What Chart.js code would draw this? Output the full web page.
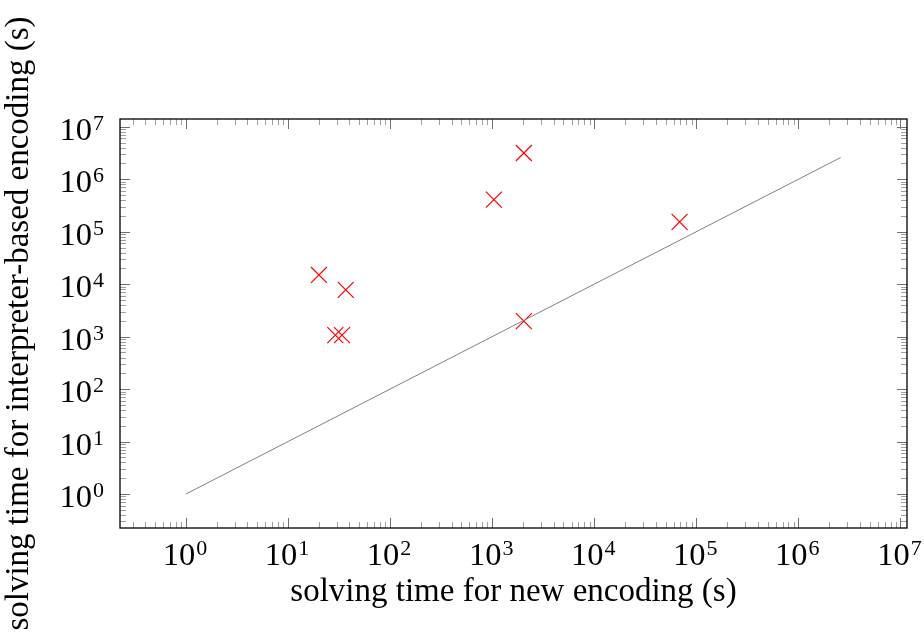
<!DOCTYPE html>
<html>
<head>
<meta charset="utf-8">
<script src="https://cdn.jsdelivr.net/npm/chart.js@4/dist/chart.umd.min.js"></script>
<style>
  body { margin: 0; background: #fff; }
  #wrap { width: 924px; height: 644px; }
</style>
</head>
<body>
<div id="wrap"><canvas id="plot" width="924" height="644"></canvas></div>
<script>
// solving times (s)
const newEncoding = [20.1, 36.8, 29.1, 33.8, 1040, 2046, 2046, 68600];
const interpEncoding = [15000, 7790, 1068, 1068, 410000, 3170000, 1974, 153800];
// y = x reference line
const diagX = [1, 2600000];
const diagY = [1, 2600000];
// decade tick values and their exponents
const decades = [1, 10, 100, 1000, 10000, 100000, 1000000, 10000000];
const exponents = ['0', '1', '2', '3', '4', '5', '6', '7'];
const minorSteps = [2, 3, 4, 5, 6, 7, 8, 9];

const FONT = "'Liberation Serif', 'DejaVu Serif', serif";

// ticks pointing inwards on all four sides, the frame, and 10^n labels
const frameTicks = {
  id: 'frameTicks',
  afterDraw(chart) {
    const { ctx, chartArea: a, scales: { x, y } } = chart;
    ctx.save();
    ctx.lineWidth = 1;
    const drawX = (v, len, col) => {
      const px = Math.round(x.getPixelForValue(v)) + 0.5;
      if (px < a.left || px > a.right) return;
      ctx.strokeStyle = col;
      ctx.beginPath();
      ctx.moveTo(px, a.bottom); ctx.lineTo(px, a.bottom - len);
      ctx.moveTo(px, a.top); ctx.lineTo(px, a.top + len);
      ctx.stroke();
    };
    const drawY = (v, len, col) => {
      const py = Math.round(y.getPixelForValue(v)) + 0.5;
      if (py < a.top || py > a.bottom) return;
      ctx.strokeStyle = col;
      ctx.beginPath();
      ctx.moveTo(a.left, py); ctx.lineTo(a.left + len, py);
      ctx.moveTo(a.right, py); ctx.lineTo(a.right - len, py);
      ctx.stroke();
    };
    [0.1].concat(decades).forEach(d => {
      minorSteps.forEach(m => { drawX(d * m, 6, '#a0a0a0'); drawY(d * m, 6, '#a0a0a0'); });
    });
    decades.forEach(d => { drawX(d, 10, '#707070'); drawY(d, 10, '#707070'); });
    ctx.strokeStyle = '#000';
    ctx.lineWidth = 1.3;
    ctx.strokeRect(a.left, a.top, a.right - a.left, a.bottom - a.top);

    // tick labels 10 with raised exponent
    const baseFont = '32.5px ' + FONT;
    const supFont = '22px ' + FONT;
    ctx.fillStyle = '#000';
    ctx.textBaseline = 'alphabetic';
    ctx.textAlign = 'left';
    decades.forEach((d, i) => {
      ctx.font = baseFont;
      const wb = ctx.measureText('10').width;
      ctx.font = supFont;
      const ws = ctx.measureText(exponents[i]).width;
      // x axis
      const px = x.getPixelForValue(d);
      const left = px - (wb + 1 + ws) / 2 - 1;
      ctx.font = baseFont;
      ctx.fillText('10', left, a.bottom + 37);
      ctx.font = supFont;
      ctx.fillText(exponents[i], left + wb + 1, a.bottom + 27);
      // y axis
      const py = y.getPixelForValue(d);
      const right = a.left - 16;
      ctx.font = supFont;
      ctx.fillText(exponents[i], right - ws, py + 3);
      ctx.font = baseFont;
      ctx.fillText('10', right - ws - 1 - wb, py + 13);
    });
    ctx.restore();
  }
};

new Chart(document.getElementById('plot').getContext('2d'), {
  type: 'scatter',
  data: {
    datasets: [{
      label: 'diagonal',
      data: diagX.map((v, i) => ({ x: v, y: diagY[i] })),
      showLine: true,
      borderColor: '#808080',
      borderWidth: 1,
      pointRadius: 0,
      fill: false
    }, {
      label: 'instances',
      data: newEncoding.map((v, i) => ({ x: v, y: interpEncoding[i] })),
      pointStyle: 'crossRot',
      pointRadius: 11.3,
      pointBorderWidth: 1.2,
      borderColor: '#ff0000',
      backgroundColor: '#ff0000'
    }]
  },
  options: {
    responsive: false,
    animation: false,
    layout: { padding: { left: 0, top: 119, right: 17, bottom: 0 } },
    plugins: { legend: { display: false }, tooltip: { enabled: false } },
    scales: {
      x: {
        type: 'logarithmic',
        min: 0.226, max: 11600000,
        grid: { display: false, drawTicks: false },
        border: { display: false },
        afterBuildTicks: s => { s.ticks = decades.map(v => ({ value: v })); },
        afterFit: s => { s.height = 116; s.paddingLeft = 0; s.paddingRight = 0; },
        ticks: { display: false },
        title: {
          display: true, text: 'solving time for new encoding (s)', color: '#000',
          font: { family: FONT, size: 33 }, padding: { top: 0, bottom: 32 }
        }
      },
      y: {
        type: 'logarithmic',
        min: 0.2249, max: 14100000,
        grid: { display: false, drawTicks: false },
        border: { display: false },
        afterBuildTicks: s => { s.ticks = decades.map(v => ({ value: v })); },
        afterFit: s => { s.width = 120; s.paddingTop = 0; s.paddingBottom = 0; },
        ticks: { display: false },
        title: {
          display: true, text: 'solving time for interpreter-based encoding (s)', color: '#000',
          font: { family: FONT, size: 33 }, padding: { top: 0, bottom: 0 }
        }
      }
    }
  },
  plugins: [frameTicks]
});
</script>
</body>
</html>
